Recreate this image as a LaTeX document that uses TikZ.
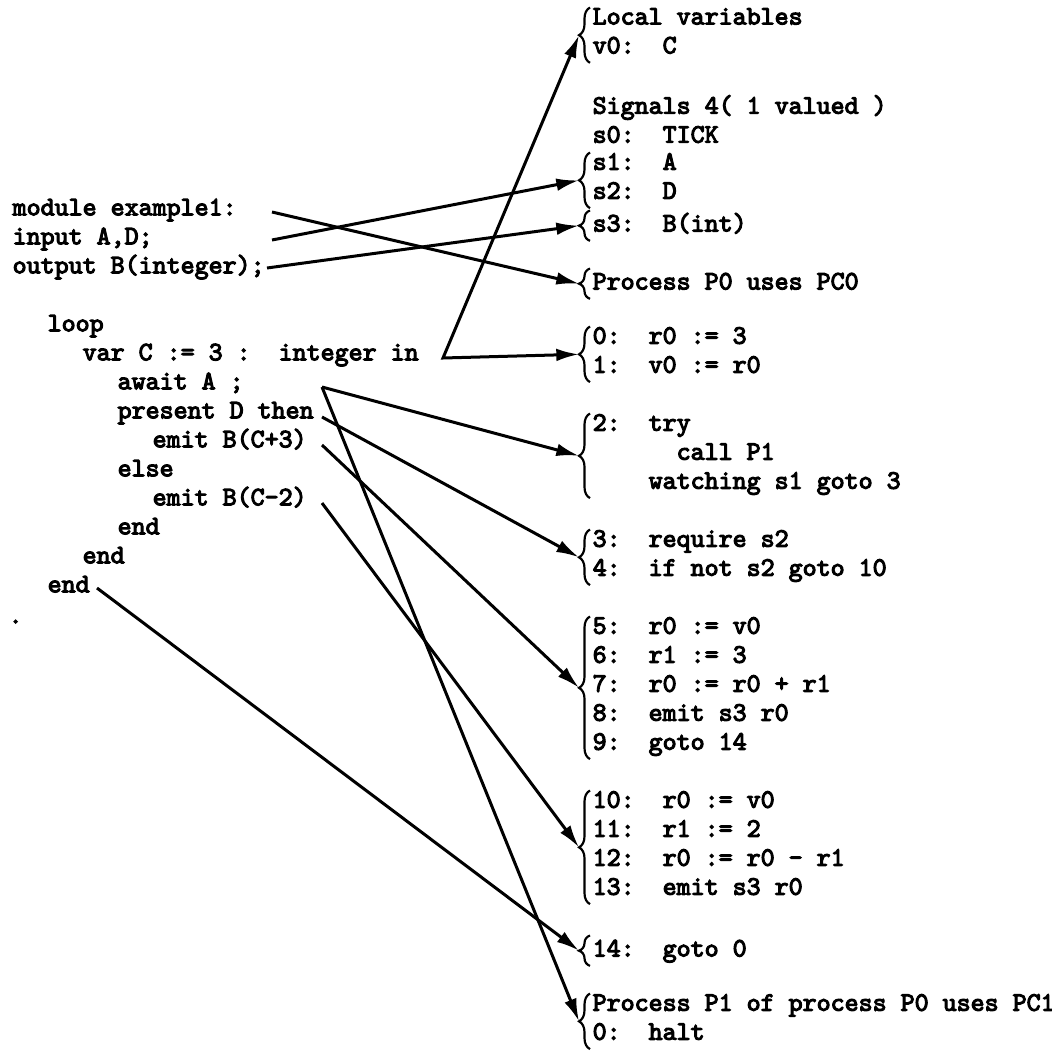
\documentclass[tikz,border=0pt]{standalone}
\usepackage{amssymb,amsmath}
\usepackage{fontspec}
\usepackage{tikz}
\usetikzlibrary{arrows.meta,decorations.pathreplacing}

\newfontfamily\codefont{lmmono10-regular.otf}[FakeBold=4]

\begin{document}
\begin{tikzpicture}[x=0.3pt,y=-0.3pt,
	>={Latex[length=6.8pt,width=3.8pt]},
	txt/.style={inner sep=0pt,anchor=west,font=\codefont\fontsize{8}{8.7}\selectfont,
		execute at begin node=\strut,execute at end node=\strut},
	grp/.style={txt,align=left,anchor=north west},
	brc/.style={decorate,decoration={brace,amplitude=3.3pt},line width=0.65pt},
	arr/.style={->,line width=0.9pt}]

		\useasboundingbox (0,0) rectangle (1051,1056);

		% source program
		\node[txt] (l0)  at (  12,209.5) {module example1:};
		\node[txt] (l1)  at (  12,238.5) {input A,D;};
		\node[txt] (l2)  at (  12,267.5) {output B(integer);};
		\node[txt] (l4)  at (  47,325.5) {loop};
		\node[txt] (l5)  at (  82,354.5) {var C := 3 :\ \ integer in};
		\node[txt] (l6)  at ( 117,383.5) {await A ;};
		\node[txt] (l7)  at ( 117,412.5) {present D then};
		\node[txt] (l8)  at ( 152,441.5) {emit B(C+3)};
		\node[txt] (l9)  at ( 117,470.5) {else};
		\node[txt] (l10) at ( 152,499.5) {emit B(C-2)};
		\node[txt] (l11) at ( 117,528.5) {end};
		\node[txt] (l12) at (  82,557.5) {end};
		\node[txt] (l13) at (  47,586.5) {end};
		\node[txt] (l14) at (   8,617.5) {.};

		% compiled code
		\node[grp] (lv)  at (592,  7.5) {Local variables\\v0:\ \ C};
		\node[grp] (sig) at (592, 94.5) {Signals 4( 1 valued )\\s0:\ \ TICK};
		\node[grp] (sad) at (592,152.5) {s1:\ \ A\\s2:\ \ D};
		\node[grp] (sb)  at (592,210.5) {s3:\ \ B(int)};
		\node[grp] (pz)  at (592,268.5) {Process P0 uses PC0};
		\node[grp] (cz)  at (592,326.5) {0:\ \ r0 := 3\\1:\ \ v0 := r0};
		\node[grp] (ct)  at (592,413.5) {2:\ \ try\\\ \ \ \ \ \ call P1\\\ \ \ \ watching s1 goto 3};
		\node[grp] (cr)  at (592,529.5) {3:\ \ require s2\\4:\ \ if not s2 goto 10};
		\node[grp] (ce)  at (592,616.5) {5:\ \ r0 := v0\\6:\ \ r1 := 3\\7:\ \ r0 := r0 + r1\\8:\ \ emit s3 r0\\9:\ \ goto 14};
		\node[grp] (cg)  at (592,790.5) {10:\ \ r0 := v0\\11:\ \ r1 := 2\\12:\ \ r0 := r0 - r1\\13:\ \ emit s3 r0};
		\node[grp] (cf)  at (592,935.5) {14:\ \ goto 0};
		\node[grp] (po)  at (592,993.5) {Process P1 of process P0 uses PC1\\0:\ \ halt};

		\draw[brc] ([xshift=-0.6pt]lv.south west) -- ([xshift=-0.6pt]lv.north west);
		\draw[brc] ([xshift=-0.6pt]sad.south west) -- ([xshift=-0.6pt]sad.north west);
		\draw[brc] ([xshift=-0.6pt]sb.south west) -- ([xshift=-0.6pt]sb.north west);
		\draw[brc] ([xshift=-0.6pt]pz.south west) -- ([xshift=-0.6pt]pz.north west);
		\draw[brc] ([xshift=-0.6pt]cz.south west) -- ([xshift=-0.6pt]cz.north west);
		\draw[brc] ([xshift=-0.6pt]ct.south west) -- ([xshift=-0.6pt]ct.north west);
		\draw[brc] ([xshift=-0.6pt]cr.south west) -- ([xshift=-0.6pt]cr.north west);
		\draw[brc] ([xshift=-0.6pt]ce.south west) -- ([xshift=-0.6pt]ce.north west);
		\draw[brc] ([xshift=-0.6pt]cg.south west) -- ([xshift=-0.6pt]cg.north west);
		\draw[brc] ([xshift=-0.6pt]cf.south west) -- ([xshift=-0.6pt]cf.north west);
		\draw[brc] ([xshift=-0.6pt]po.south west) -- ([xshift=-0.6pt]po.north west);

		% where the arrows start
		\coordinate (m0) at (272,212);
		\coordinate (i0) at (272,240);
		\coordinate (o0) at (267,268);
		\coordinate (v0) at (443,358);
		\coordinate (a0) at (322,387);
		\coordinate (p0) at (322,417);
		\coordinate (e3) at (322,445);
		\coordinate (e2) at (322,503);
		\coordinate (n0) at ( 97,588);

		\draw[arr] (m0) to ([xshift=-3.9pt]pz.west);
		\draw[arr] (i0) to ([xshift=-3.9pt]sad.west);
		\draw[arr] (o0) to ([xshift=-3.9pt]sb.west);
		\draw[<->,line width=0.9pt] ([xshift=-3.9pt]lv.west) -- (v0) -- ([xshift=-3.9pt]cz.west);
		\draw[arr] (a0) to ([xshift=-3.9pt]ct.west);
		\draw[arr] (a0) to ([xshift=-3.9pt]po.west);
		\draw[arr] (p0) to ([xshift=-3.9pt]cr.west);
		\draw[arr] (e3) to ([xshift=-3.9pt]ce.west);
		\draw[arr] (e2) to ([xshift=-3.9pt]cg.west);
		\draw[arr] (n0) to ([xshift=-3.9pt]cf.west);

	\end{tikzpicture}
\end{document}
